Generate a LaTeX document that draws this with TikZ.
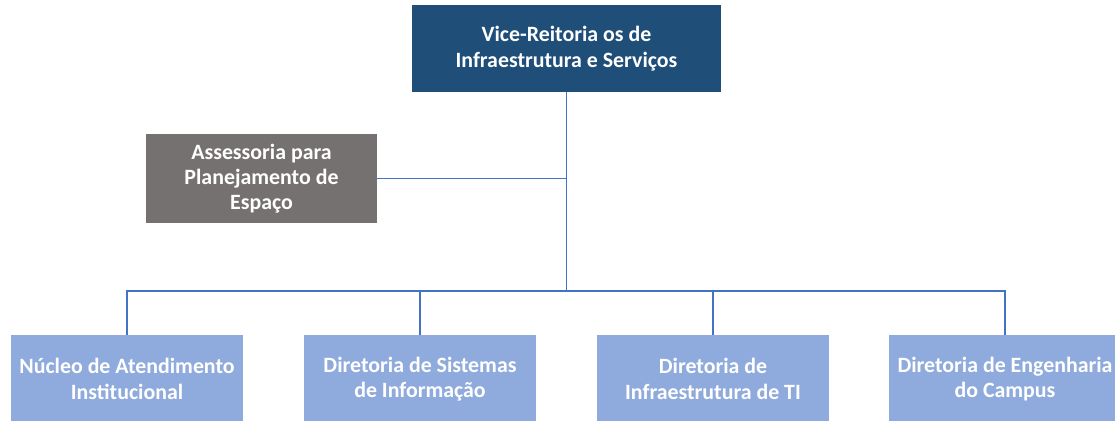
\documentclass[tikz,border=0pt]{standalone}
\usepackage{fontspec}
\setmainfont{Carlito}
\definecolor{topblue}{HTML}{1F4E79}
\definecolor{grayc}{HTML}{767171}
\definecolor{lightblue}{HTML}{8FAADC}
\definecolor{linec}{HTML}{4472C4}
\begin{document}
\begin{tikzpicture}[x=0.75pt,y=-0.75pt,
  boxbase/.style={rectangle, inner sep=0pt, text=white, align=center,
    font=\fontsize{16.4}{19}\selectfont\bfseries},
  topbox/.style={boxbase, fill=topblue, minimum width=309*0.75pt, minimum height=87*0.75pt},
  graybox/.style={boxbase, fill=grayc, minimum width=231*0.75pt, minimum height=89*0.75pt},
  lowbox/.style={boxbase, fill=lightblue, minimum width=232*0.75pt, minimum height=88*0.75pt},
  conn/.style={draw=linec, line width=0.8pt}]
\useasboundingbox (0,0) rectangle (1115,421);
\clip (0,0) rectangle (1115,421);
\node[topbox] (top) at (566.5,48.5) {Vice-Reitoria os de\\Infraestrutura e Serviços};
\node[graybox] (asp) at (261.5,178.5) {Assessoria para\\Planejamento de\\Espaço};
\node[lowbox] (b1) at (127,379) {Núcleo de Atendimento\\Institucional};
\node[lowbox] (b2) at (420,379) {Diretoria de Sistemas\\de Informação};
\node[lowbox] (b3) at (713,379) {Diretoria de\\Infraestrutura de TI};
\node[lowbox] (b4) at (1005,379) {Diretoria de Engenharia\\do Campus};
\coordinate (bus) at (566.5,291);
\draw[conn] (top.south) -- (bus);
\draw[conn] (asp.east) -- (asp.east -| top.south);
\draw[conn] (b1.north) |- (bus);
\draw[conn] (b2.north) |- (bus);
\draw[conn] (b3.north) |- (bus);
\draw[conn] (b4.north) |- (bus);
\end{tikzpicture}
\end{document}
